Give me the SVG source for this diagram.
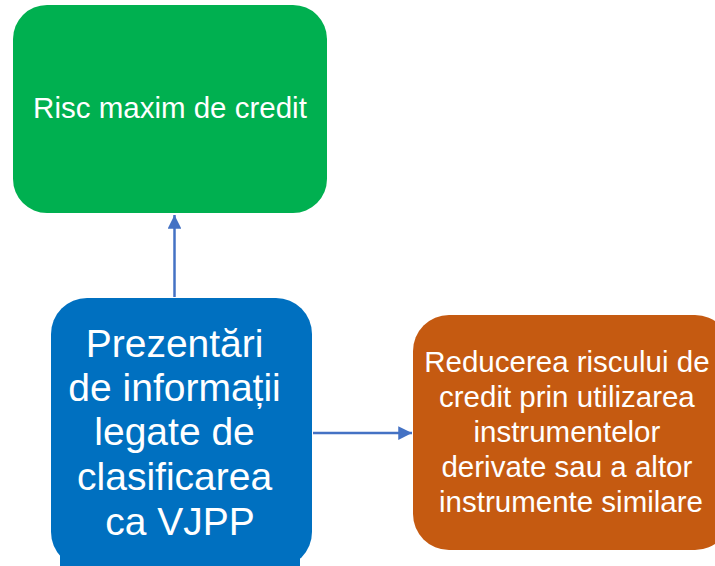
<svg xmlns="http://www.w3.org/2000/svg" width="715" height="566" viewBox="0 0 715 566">
<style>
.lbl{font-family:"Liberation Sans",Arial,sans-serif;fill:#ffffff;text-anchor:middle}
.conn{stroke:#4472C4;stroke-width:2.5;fill:none}
</style>
<defs>
<marker id="ah" viewBox="0 0 10 10" refX="10" refY="5" markerWidth="5.5" markerHeight="5.5" markerUnits="strokeWidth" orient="auto">
<path d="M0,0 L10,5 L0,10 z" fill="#4472C4"/>
</marker>
</defs>
<rect width="715" height="566" fill="#ffffff"/>
<g id="connectors">
<line class="conn" x1="174.5" y1="297" x2="174.5" y2="215" marker-end="url(#ah)"/>
<line class="conn" x1="313" y1="433" x2="412" y2="433" marker-end="url(#ah)"/>
</g>
<g id="node-green">
<rect x="13" y="5" width="314" height="208" rx="34" fill="#00B050"/>
<text class="lbl" x="170" y="118" font-size="29.5">Risc maxim de credit</text>
</g>
<g id="node-blue">
<rect x="51" y="298" width="261" height="270" rx="36" fill="#0070C0"/>
<rect x="60" y="545" width="240" height="21" fill="#0070C0"/>
<text class="lbl" font-size="39">
<tspan x="180" y="357">Prezentări</tspan>
<tspan x="180" y="401">de informații</tspan>
<tspan x="180" y="445">legate de</tspan>
<tspan x="180" y="490">clasificarea</tspan>
<tspan x="180" y="535">ca VJPP</tspan>
</text>
</g>
<g id="node-orange">
<rect x="413" y="315" width="318" height="235" rx="36" fill="#C55A11"/>
<text class="lbl" font-size="29.5">
<tspan x="571" y="372">Reducerea riscului de</tspan>
<tspan x="571" y="407">credit prin utilizarea</tspan>
<tspan x="571" y="442">instrumentelor</tspan>
<tspan x="571" y="477">derivate sau a altor</tspan>
<tspan x="571" y="512">instrumente similare</tspan>
</text>
</g>
</svg>
